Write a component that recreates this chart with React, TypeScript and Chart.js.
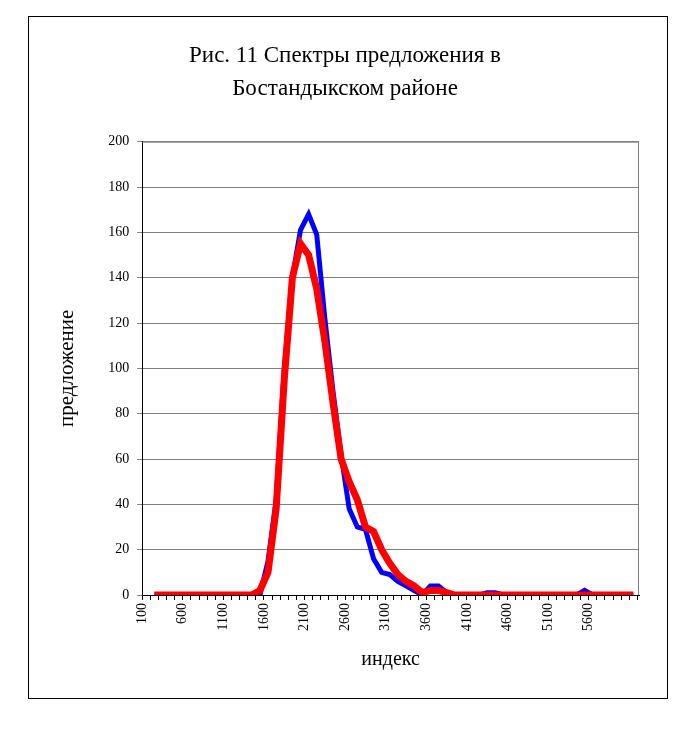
import React, { useEffect, useRef } from "react";
import { Chart, registerables } from "chart.js";
Chart.register(...registerables);

const xValues = [250,350,450,550,650,750,850,950,1050,1150,1250,1350,1450,1550,1650,1750,1850,1950,2050,2150,2250,2350,2450,2550,2650,2750,2850,2950,3050,3150,3250,3350,3450,3550,3650,3750,3850,3950,4050,4150,4250,4350,4450,4550,4650,4750,4850,4950,5050,5150,5250,5350,5450,5550,5650,5750,5850,5950,6050,6150];
const blueValues = [0,0,0,0,0,0,0,0,0,0,0,0,
  0,0,15,42,100,140,161,168,159,122,90,62,38,30,29,16,10,9,6,4,2,0,4,4,1,0,
  0,0,0,1,1,0,0,0,0,0,0,0,0,0,0,2,0,0,0,0,0,0];
const redValues = [0,0,0,0,0,0,0,0,0,0,0,0,
  0,2,10,38,95,140,155,150,135,112,85,60,50,42,30,28,20,14,9,6,4,1,2,2,1,0,
  0,0,0,0,0,0,0,0,0,0,0,0,0,0,0,0,0,0,0,0,0,0];
const xTickLabels = [100,600,1100,1600,2100,2600,3100,3600,4100,4600,5100,5600];
const titleLines = ["Рис. 11 Спектры предложения в", "Бостандыкском районе"];

export default function App() {
  const ref = useRef<HTMLCanvasElement>(null);
  useEffect(() => {
    const font = "'Liberation Serif', 'DejaVu Serif', serif";
    const chart = new Chart(ref.current!, {
      type: "line",
      data: {
        datasets: [
          { data: xValues.map((x, i) => ({ x, y: redValues[i] })), borderColor: "#ff0000", borderWidth: 7, pointRadius: 0, tension: 0, order: 1 },
          { data: xValues.map((x, i) => ({ x, y: blueValues[i] })), borderColor: "#0000ff", borderWidth: 5, pointRadius: 0, tension: 0, order: 2 },
        ],
      },
      options: {
        animation: false,
        responsive: false,
        layout: { padding: { left: 22, right: 28, top: 20, bottom: 22 } },
        plugins: {
          legend: { display: false },
          tooltip: { enabled: false },
          title: { display: true, text: titleLines, color: "#000", font: { family: font, size: 23, weight: "normal", lineHeight: 1.45 }, padding: { top: 2, bottom: 36 } },
        },
        scales: {
          x: {
            type: "linear", min: 100, max: 6220,
            afterBuildTicks: (axis: any) => {
              const t = [];
              for (let v = 100; v <= 6200; v += 100) t.push({ value: v });
              axis.ticks = t;
            },
            ticks: {
              autoSkip: false, minRotation: 90, maxRotation: 90, color: "#000",
              font: { family: font, size: 14 },
              callback: (v: any) => (xTickLabels.includes(v) ? String(v) : ""),
            },
            grid: { drawOnChartArea: false, drawTicks: true, tickLength: 5, color: "#000" },
            border: { color: "#000" },
            title: { display: true, text: "индекс", color: "#000", font: { family: font, size: 20 }, padding: { top: 14 } },
          },
          y: {
            min: 0, max: 200,
            ticks: { stepSize: 20, color: "#000", font: { family: font, size: 14 }, padding: 8 },
            grid: { color: "#808080", tickLength: 5, drawTicks: true },
            border: { color: "#000" },
            title: { display: true, text: "предложение", color: "#000", font: { family: font, size: 21 }, padding: { bottom: 20 } },
          },
        },
      },
      plugins: [{
        id: "frame",
        afterDraw(c: any) {
          const { ctx, chartArea: a } = c;
          ctx.save();
          ctx.strokeStyle = "#808080";
          ctx.lineWidth = 1;
          ctx.beginPath();
          ctx.moveTo(a.left, a.top + 0.5); ctx.lineTo(a.right, a.top + 0.5);
          ctx.moveTo(a.right - 0.5, a.top); ctx.lineTo(a.right - 0.5, a.bottom);
          ctx.stroke();
          ctx.restore();
        },
      }],
    } as any);
    return () => chart.destroy();
  }, []);
  return (
    <div style={{ position: "absolute", left: 0, top: 0, width: 689, height: 729, background: "#fff" }}>
      <div style={{ position: "absolute", left: 28, top: 16, width: 638, height: 681, border: "1px solid #000" }}>
        <canvas ref={ref} width={638} height={681} />
      </div>
    </div>
  );
}
